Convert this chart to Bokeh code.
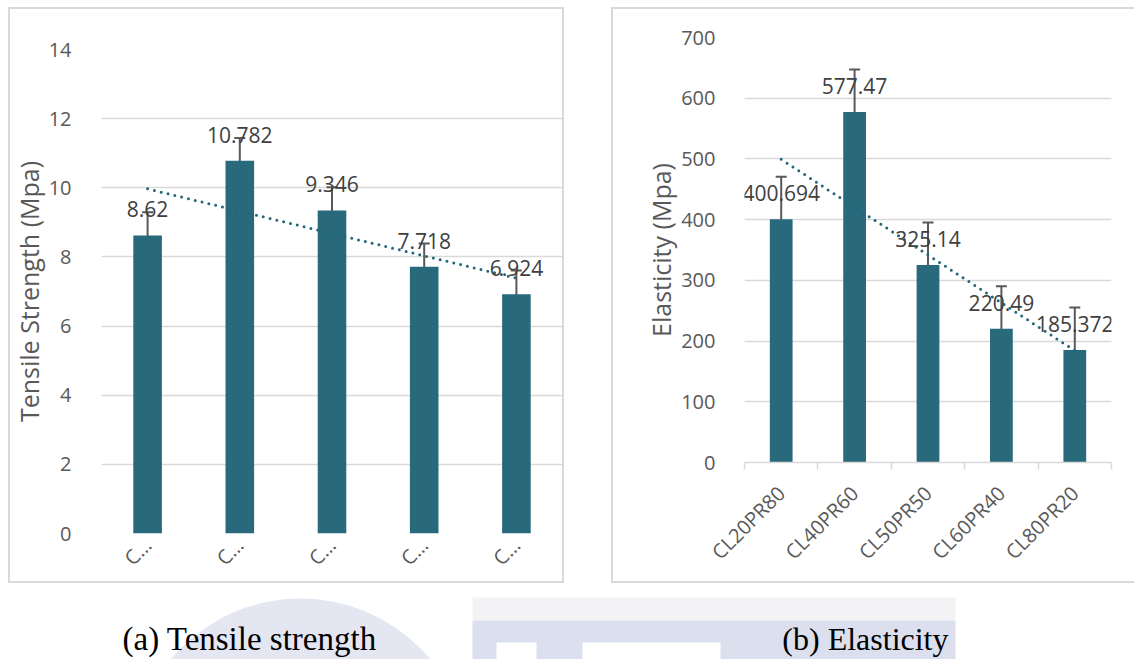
import math
import numpy as np
from bokeh.plotting import figure
from bokeh.models import ColumnDataSource, Range1d, FixedTicker, Whisker, TeeHead, Label, Spacer
from bokeh.layouts import column, row
from bokeh.core.properties import value
from bokeh.embed import file_html
from bokeh.resources import INLINE

# ---------------- data ----------------
categories = ["CL20PR80", "CL40PR60", "CL50PR50", "CL60PR40", "CL80PR20"]
tensile = [8.62, 10.782, 9.346, 7.718, 6.924]
tensile_err = [0.67, 0.66, 0.67, 0.67, 0.68]
tensile_labels = ["8.62", "10.782", "9.346", "7.718", "6.924"]
tensile_ticks = [0, 2, 4, 6, 8, 10, 12, 14]
elasticity = [400.694, 577.47, 325.14, 220.49, 185.372]
elasticity_err = [70, 70, 70, 70, 70]
elasticity_labels = ["400.694", "577.47", "325.14", "220.49", "185.372"]
elasticity_ticks = [0, 100, 200, 300, 400, 500, 600, 700]
captions = ["(a) Tensile strength", "(b) Elasticity"]

# ---------------- style ----------------
BAR = "#28697B"
TREND = "#22677A"
ERR = "#595959"
GRID = "#D9D9D9"
TXT = "#595959"
LBL = "#404040"
FONT = "Open Sans"


def chart(values, errs, labels, ticks, ytitle, W, H, mb, tick_standoff, title_standoff,
          short_names, x_standoff, shadow):
    n = len(categories)
    xs = np.arange(n) + 0.5
    vals = np.array(values, dtype=float)
    e = np.array(errs, dtype=float)
    src = ColumnDataSource(dict(x=xs, top=vals, upper=vals + e, lower=vals - e, label=labels))

    p = figure(width=W, height=H, output_backend="svg", toolbar_location=None,
               x_range=Range1d(0, n), y_range=Range1d(ticks[0], ticks[-1]),
               min_border_left=mb[0], min_border_right=mb[1],
               min_border_top=mb[2], min_border_bottom=mb[3],
               styles={"box-shadow": shadow})
    p.outline_line_color = None
    p.background_fill_color = None
    p.border_fill_color = None

    # grid
    p.xgrid.grid_line_color = None
    p.ygrid.ticker = FixedTicker(ticks=ticks)
    p.ygrid.grid_line_color = GRID
    p.ygrid.grid_line_width = 1.5

    # bars
    p.vbar(x="x", top="top", bottom=0, width=0.31, source=src,
           fill_color=BAR, line_color=None)

    # linear trendline (least squares fit of the series)
    idx = np.arange(1, n + 1)
    coef = np.polyfit(idx, vals, 1)
    p.line(x=[xs[0], xs[-1]], y=list(np.polyval(coef, [idx[0], idx[-1]])),
           line_color=TREND, line_width=3, line_dash="0 7", line_cap="round")

    # error bars
    wk = Whisker(base="x", upper="upper", lower="lower", source=src,
                 line_color=ERR, line_width=2,
                 upper_head=TeeHead(size=11, line_color=ERR, line_width=2),
                 lower_head=TeeHead(size=11, line_color=ERR, line_width=2))
    p.add_layout(wk)

    # data labels
    p.text(x="x", y="top", text="label", source=src, text_align="center",
           text_baseline="middle", y_offset=-26, text_font=value(FONT),
           text_font_size="21px", text_color=LBL)

    # y axis
    ya = p.yaxis[0]
    ya.ticker = FixedTicker(ticks=ticks)
    ya.axis_line_color = None
    ya.major_tick_line_color = None
    ya.minor_tick_line_color = None
    ya.major_label_standoff = tick_standoff
    ya.major_label_text_font = FONT
    ya.major_label_text_font_size = "20px"
    ya.major_label_text_color = TXT
    ya.axis_label = ytitle
    ya.axis_label_text_font = FONT
    ya.axis_label_text_font_size = "25px"
    ya.axis_label_text_font_style = "normal"
    ya.axis_label_text_color = TXT
    ya.axis_label_standoff = title_standoff

    # x axis
    xa = p.xaxis[0]
    xa.ticker = FixedTicker(ticks=list(xs), minor_ticks=list(np.arange(n + 1)))
    if short_names:
        xa.major_label_overrides = {float(x): c[0] + "\u2026" for x, c in zip(xs, categories)}
        xa.axis_line_color = None
        xa.minor_tick_line_color = None
    else:
        xa.major_label_overrides = {float(x): c for x, c in zip(xs, categories)}
        xa.axis_line_color = GRID
        xa.axis_line_width = 1.5
        xa.minor_tick_line_color = GRID
        xa.minor_tick_line_width = 1.5
        xa.minor_tick_in = 0
        xa.minor_tick_out = 7
    xa.major_tick_line_color = None
    xa.major_label_orientation = math.pi / 4
    xa.major_label_standoff = x_standoff
    xa.major_label_text_font = FONT
    xa.major_label_text_font_size = "20px"
    xa.major_label_text_color = TXT
    return p


left = chart(tensile, tensile_err, tensile_labels, tensile_ticks, "Tensile Strength (Mpa)",
             556, 576, (88, 2, 42, 50), 24, 0, True, 2,
             "inset 0 0 0 2px #D9D9D9")
right = chart(elasticity, elasticity_err, elasticity_labels, elasticity_ticks, "Elasticity (Mpa)",
              523, 576, (133, 23, 30, 121), 23, 0, False, 20,
              "inset 2px 2px 0 0 #D9D9D9, inset 0 -2px 0 0 #D9D9D9")

# caption strip (with faint watermark from the source page)
cap = figure(width=1134, height=76, output_backend="svg", toolbar_location=None,
             x_range=Range1d(0, 1134), y_range=Range1d(0, 76),
             min_border_left=0, min_border_right=0, min_border_top=0, min_border_bottom=0)
cap.axis.visible = False
cap.grid.visible = False
cap.outline_line_color = None
cap.background_fill_color = "white"
cap.border_fill_color = "white"
cap.circle(x=[300], y=[-108], radius=169, fill_color="#E4E7F2", line_color=None)
cap.quad(left=[472], right=[955], bottom=[39], top=[62], fill_color="#F3F3F6", line_color=None)
cap.quad(left=[472], right=[955], bottom=[0], top=[39], fill_color="#DCE0EE", line_color=None)
cap.quad(left=[496, 582], right=[536, 720], bottom=[0, 0], top=[17, 17],
         fill_color="white", line_color=None)
cap.add_layout(Label(x=122, y=21, text=captions[0], text_font="Liberation Serif",
                     text_font_size="33px", text_color="#000000", text_align="left",
                     text_baseline="middle"))
cap.add_layout(Label(x=948, y=21, text=captions[1], text_font="Liberation Serif",
                     text_font_size="32px", text_color="#000000", text_align="right",
                     text_baseline="middle"))

layout = column(Spacer(width=1134, height=7),
                row(Spacer(width=8, height=576), column(left),
                    Spacer(width=47, height=576), column(right)),
                cap)

open("out.html", "w").write(file_html(layout, INLINE))
